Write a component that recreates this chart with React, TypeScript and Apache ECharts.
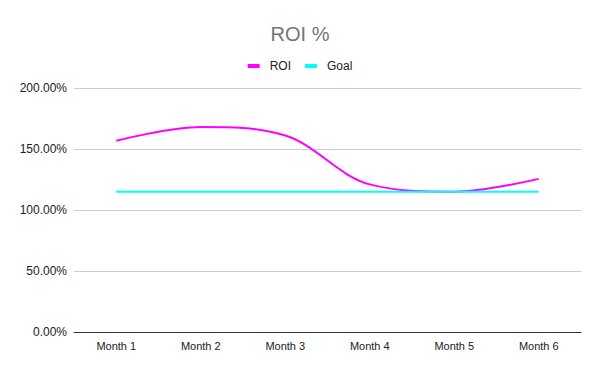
import React, { useEffect, useRef } from "react";
import * as echarts from "echarts";

const categories = ["Month 1", "Month 2", "Month 3", "Month 4", "Month 5", "Month 6"];
const roiValues = [156.8, 168, 161, 121, 115, 125.5];
const goalValues = [115, 115, 115, 115, 115, 115];
const yTicks = { min: 0, max: 200, interval: 50 };

const FONT = "'Liberation Sans', Arial, sans-serif";

export default function App() {
  const ref = useRef<HTMLDivElement>(null);
  useEffect(() => {
    if (!ref.current) return;
    const chart = echarts.init(ref.current, undefined, { renderer: "svg" });
    chart.setOption({
      animation: false,
      backgroundColor: "#ffffff",
      textStyle: { fontFamily: FONT },
      title: {
        text: "ROI %",
        left: "center",
        top: 19,
        textStyle: { fontFamily: FONT, fontSize: 20, fontWeight: "normal", color: "#757575" },
      },
      legend: {
        top: 55,
        left: "center",
        icon: "rect",
        itemWidth: 12,
        itemHeight: 4,
        itemGap: 14,
        textStyle: { fontFamily: FONT, fontSize: 12, color: "#222222", padding: [0, 0, 0, 5] },
        data: ["ROI", "Goal"],
      },
      grid: { left: 74, right: 19, top: 88, bottom: 39, containLabel: false },
      xAxis: {
        type: "category",
        data: categories,
        boundaryGap: true,
        axisLine: { lineStyle: { color: "#333333", width: 1 } },
        axisTick: { show: false },
        axisLabel: { fontFamily: FONT, fontSize: 11, color: "#222222", margin: 8 },
      },
      yAxis: {
        type: "value",
        min: yTicks.min,
        max: yTicks.max,
        interval: yTicks.interval,
        axisLine: { show: false },
        axisTick: { show: false },
        splitLine: { lineStyle: { color: "#cccccc", width: 1 } },
        axisLabel: {
          fontFamily: FONT,
          fontSize: 12,
          color: "#222222",
          margin: 7,
          formatter: (v: number) => v.toFixed(2) + "%",
        },
      },
      series: [
        {
          name: "ROI",
          type: "line",
          data: roiValues,
          smooth: 0.35,
          symbol: "none",
          lineStyle: { color: "#ff00ff", width: 2 },
          itemStyle: { color: "#ff00ff" },
        },
        {
          name: "Goal",
          type: "line",
          data: goalValues,
          symbol: "none",
          lineStyle: { color: "#00ffff", width: 2 },
          itemStyle: { color: "#00ffff" },
        },
      ],
    });
    return () => chart.dispose();
  }, []);
  return (
    <div
      ref={ref}
      style={{ position: "absolute", left: 0, top: 0, width: 600, height: 371 }}
    />
  );
}
